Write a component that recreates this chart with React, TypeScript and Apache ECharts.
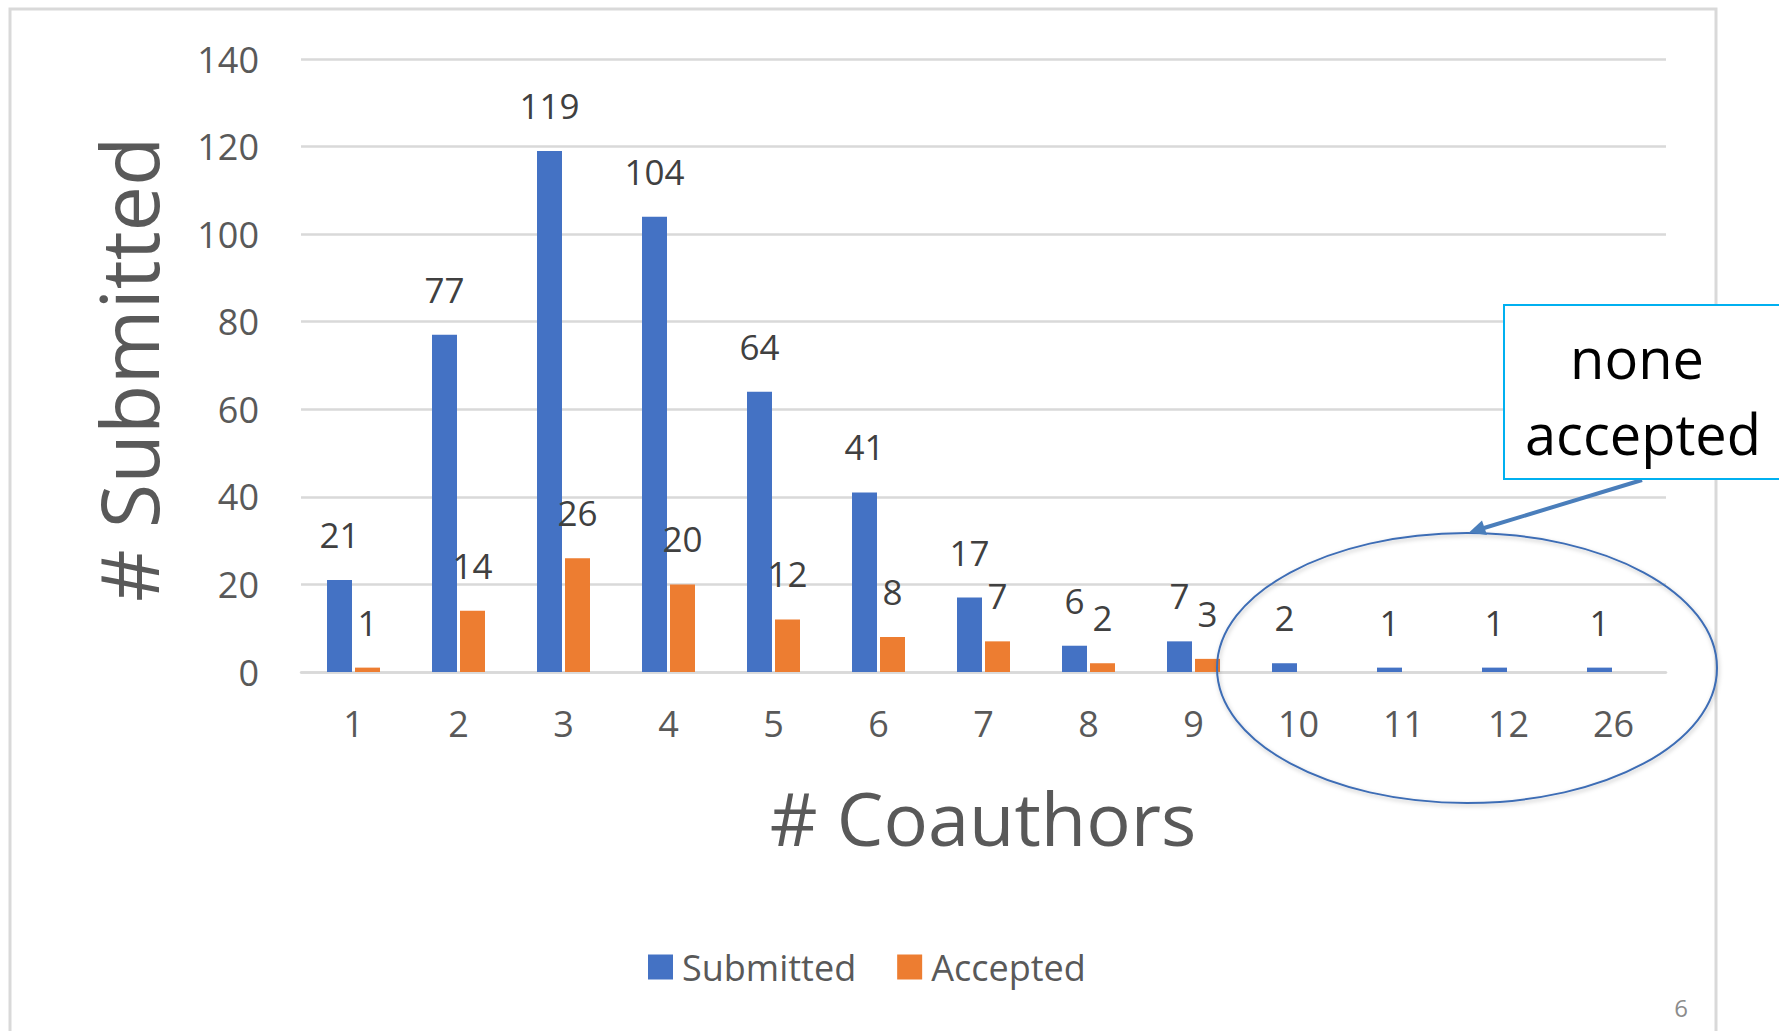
import React, { useEffect, useRef } from "react";
import * as echarts from "echarts";

const categories = ["1", "2", "3", "4", "5", "6", "7", "8", "9", "10", "11", "12", "26"];
const submitted = [21, 77, 119, 104, 64, 41, 17, 6, 7, 2, 1, 1, 1];
const accepted = [1, 14, 26, 20, 12, 8, 7, 2, 3, 0, 0, 0, 0];
const yTicks = { min: 0, max: 140, interval: 20 };

const FONT = "'Open Sans', 'Noto Sans', sans-serif";
const BLUE = "#4472C4";
const ORANGE = "#ED7D31";
const AXIS_TEXT = "#595959";
const GRID = "#D9D9D9";

export default function App() {
  const ref = useRef<HTMLDivElement>(null);

  useEffect(() => {
    if (!ref.current) return;
    const chart = echarts.init(ref.current, null, { renderer: "svg" });

    const hideZero = (p: any) => (p.value === 0 ? "" : String(p.value));

    const option: any = {
      animation: false,
      backgroundColor: "#ffffff",
      grid: { left: 301, right: 113, top: 59, bottom: 359, containLabel: false },
      legend: {
        left: 643,
        top: 944,
        itemWidth: 25,
        itemHeight: 25,
        itemGap: 41,
        icon: "rect",
        textStyle: { fontSize: 36, color: AXIS_TEXT, fontFamily: FONT, padding: [0, 0, 0, 4] },
        data: ["Submitted", "Accepted"],
      },
      xAxis: {
        type: "category",
        data: categories,
        axisLine: { show: true, lineStyle: { color: GRID, width: 2.5 } },
        axisTick: { show: false },
        axisLabel: { fontSize: 36, color: AXIS_TEXT, fontFamily: FONT, margin: 33 },
      },
      yAxis: {
        type: "value",
        min: yTicks.min,
        max: yTicks.max,
        interval: yTicks.interval,
        axisLine: { show: false },
        axisTick: { show: false },
        splitLine: { lineStyle: { color: GRID, width: 2.5 } },
        axisLabel: { fontSize: 36, color: AXIS_TEXT, fontFamily: FONT, margin: 42 },
      },
      series: [
        {
          name: "Submitted",
          type: "bar",
          data: submitted,
          barWidth: 25,
          barGap: "12%",
          itemStyle: { color: BLUE },
          label: {
            show: true,
            position: "top",
            distance: 28,
            fontSize: 35,
            color: "#404040",
            fontFamily: FONT,
            formatter: hideZero,
          },
        },
        {
          name: "Accepted",
          type: "bar",
          data: accepted,
          barWidth: 25,
          barGap: "12%",
          itemStyle: { color: ORANGE },
          label: {
            show: true,
            position: "top",
            distance: 28,
            fontSize: 35,
            color: "#404040",
            fontFamily: FONT,
            formatter: hideZero,
          },
        },
      ],
      graphic: [
        {
          type: "rect",
          shape: { x: 10, y: 9, width: 1706, height: 1100 },
          style: { fill: "none", stroke: GRID, lineWidth: 3 },
          silent: true,
          z: -1,
        },
        {
          type: "text",
          x: 127,
          y: 369,
          rotation: Math.PI / 2,
          style: {
            text: "# Submitted",
            fontSize: 81,
            fontFamily: FONT,
            fill: AXIS_TEXT,
            align: "center",
            verticalAlign: "middle",
          },
        },
        {
          type: "text",
          x: 983,
          y: 817,
          style: {
            text: "# Coauthors",
            fontSize: 74,
            fontFamily: FONT,
            fill: AXIS_TEXT,
            align: "center",
            verticalAlign: "middle",
          },
        },
        {
          type: "ellipse",
          shape: { cx: 1467, cy: 668, rx: 250, ry: 135 },
          style: {
            fill: "none",
            stroke: "#3E6DB5",
            lineWidth: 2,
            shadowBlur: 4,
            shadowColor: "rgba(0,0,0,0.25)",
            shadowOffsetX: 1,
            shadowOffsetY: 2,
          },
          z: 10,
        },
        {
          type: "line",
          shape: { x1: 1642, y1: 480, x2: 1484, y2: 528 },
          style: { stroke: "#4A7EBB", lineWidth: 4 },
          z: 10,
        },
        {
          type: "polygon",
          shape: { points: [[1469, 532.5], [1482, 520.5], [1487, 535]] },
          style: { fill: "#4A7EBB" },
          z: 10,
        },
        {
          type: "rect",
          shape: { x: 1504, y: 305, width: 300, height: 174 },
          style: { fill: "#ffffff", stroke: "#00B0F0", lineWidth: 2 },
          z: 11,
        },
        {
          type: "text",
          x: 1637,
          y: 357,
          z: 12,
          style: {
            text: "none",
            fontSize: 56,
            fontFamily: FONT,
            fill: "#000000",
            align: "center",
            verticalAlign: "middle",
          },
        },
        {
          type: "text",
          x: 1643,
          y: 433,
          z: 12,
          style: {
            text: "accepted",
            fontSize: 56,
            fontFamily: FONT,
            fill: "#000000",
            align: "center",
            verticalAlign: "middle",
          },
        },
        {
          type: "text",
          x: 1681,
          y: 1007,
          style: {
            text: "6",
            fontSize: 24,
            fontFamily: FONT,
            fill: "#8C8C8C",
            align: "center",
            verticalAlign: "middle",
          },
        },
      ],
    };

    chart.setOption(option);
    return () => chart.dispose();
  }, []);

  return (
    <div
      ref={ref}
      style={{ position: "fixed", left: 0, top: 0, width: 1779, height: 1031, background: "#fff" }}
    />
  );
}
